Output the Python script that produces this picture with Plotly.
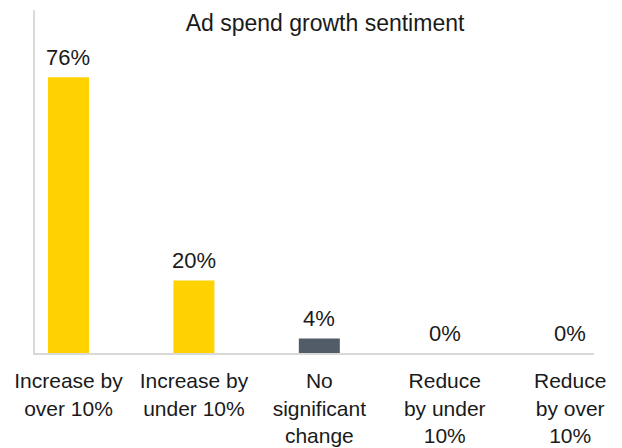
import plotly.graph_objects as go

categories = ["Increase by<br>over 10%", "Increase by<br>under 10%", "No<br>significant<br>change",
              "Reduce<br>by under<br>10%", "Reduce<br>by over<br>10%"]
values = [76, 20, 4, 0, 0]
labels = ["76%", "20%", "4%", "0%", "0%"]
colors = ["#FFD200", "#FFD200", "#525C68", "#525C68", "#525C68"]

FONT = "Liberation Sans"
TXT = "#1a1a1a"
W, H = 614, 440  # page has an 8px body margin

xs = list(range(len(categories)))
fig = go.Figure(go.Bar(
    x=xs, y=values,
    marker=dict(color=colors, line=dict(width=0)), width=0.327, cliponaxis=False,
))
for xi, v, lab in zip(xs, values, labels):
    fig.add_annotation(x=xi, y=v, text=lab, showarrow=False, yanchor="middle",
                       yshift=20, font=dict(family=FONT, size=22, color=TXT))
fig.update_layout(
    width=W, height=H, plot_bgcolor="white", paper_bgcolor="white",
    margin=dict(l=27, r=28, t=2, b=95),
    title=dict(text="Ad spend growth sentiment", x=317 / W, xref="container", xanchor="center",
               y=1 - 15 / H, yref="container", yanchor="middle",
               font=dict(family=FONT, size=23, color=TXT)),
    showlegend=False,
    font=dict(family=FONT, size=21, color=TXT),
)
fig.update_xaxes(tickmode="array", tickvals=xs, ticktext=categories,
                 range=[-0.267, 4.19], showline=True, linecolor="#D9D9D9", linewidth=2,
                 ticks="", showgrid=False, zeroline=False, automargin=False,
                 ticklabelstandoff=8,
                 tickfont=dict(family=FONT, size=21, color=TXT))
fig.update_yaxes(range=[0, 94.5], showline=True, linecolor="#D9D9D9", linewidth=2,
                 showticklabels=False, ticks="", showgrid=False, zeroline=False)
fig.write_html("out.html")
